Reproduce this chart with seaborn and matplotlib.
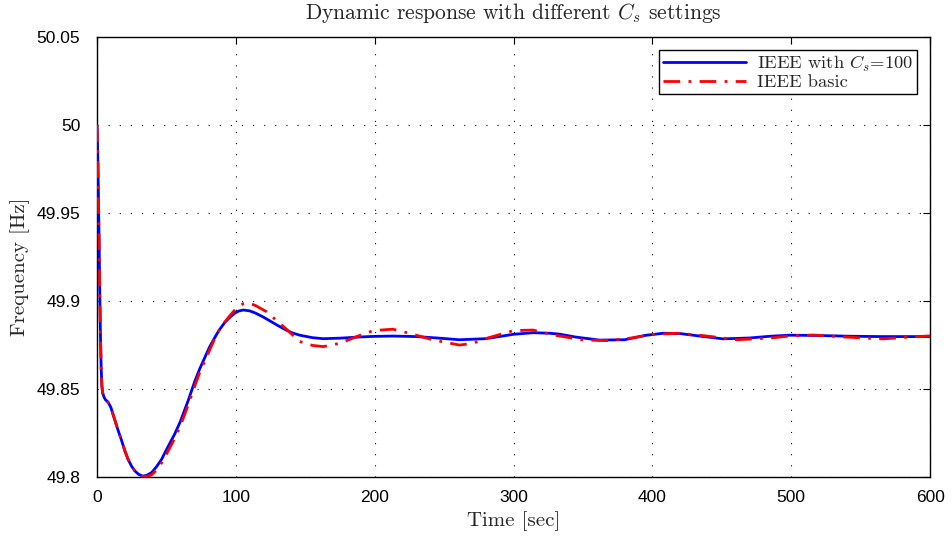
import numpy as np
import pandas as pd
import matplotlib
matplotlib.use("Agg")
import matplotlib.pyplot as plt
import seaborn as sns
from matplotlib.ticker import FixedLocator, FuncFormatter

# ---- data ----
t_blue = [0, 0.5, 1, 1.5, 2, 2.5, 3, 3.5, 4, 5, 6, 8, 10, 12.8, 15, 17.6, 20, 22.4, 25, 27.2,
          30, 33, 36, 39.3, 43, 46.5, 50, 56, 60, 65.7, 70.5, 74, 77.7, 81, 85, 88, 92, 96,
          99.4, 102, 105.4, 110, 114, 120, 125, 130, 136, 141, 146, 155, 163, 175, 190, 199,
          213, 230, 245, 261, 280, 300, 314, 326, 333, 345, 362, 380, 395, 408, 420, 435, 451,
          470, 485, 499, 520, 542, 565, 591, 600]
f_blue = [50.000, 49.985, 49.962, 49.935, 49.905, 49.880, 49.862, 49.852, 49.848, 49.8455,
          49.844, 49.8425, 49.8395, 49.8325, 49.827, 49.821, 49.815, 49.810, 49.806, 49.8035,
          49.8015, 49.8005, 49.801, 49.8025, 49.806, 49.810, 49.8155, 49.8245, 49.8315, 49.8435,
          49.8545, 49.8615, 49.868, 49.8738, 49.8795, 49.8835, 49.8878, 49.8910, 49.8932, 49.8943,
          49.8949, 49.8944, 49.8932, 49.8908, 49.8885, 49.8862, 49.8836, 49.8818, 49.8806,
          49.8792, 49.8786, 49.8789, 49.8796, 49.8799, 49.8801, 49.8798, 49.879, 49.878, 49.8786,
          49.8811, 49.882, 49.8817, 49.8812, 49.8795, 49.8778, 49.878, 49.8805, 49.8817, 49.8815,
          49.880, 49.8785, 49.879, 49.880, 49.8806, 49.8804, 49.880, 49.8798, 49.8798, 49.8798]

t_red = [0, 0.5, 1, 1.5, 2, 2.5, 3, 3.5, 4, 5, 6, 8, 10, 12.8, 15, 17.6, 20, 22.4, 25, 27.2,
         30, 33, 36, 39.3, 43, 46.5, 50, 56, 60, 65.7, 70.5, 74, 77.7, 81, 85, 88, 92, 96,
         99.4, 102, 105.4, 109, 114, 122, 130, 137, 146, 155, 163, 175, 187, 199, 213, 225,
         242, 261, 270, 281, 300, 314, 329, 350, 367, 385, 400, 418, 435, 461, 485, 500, 516,
         540, 566, 585, 600]
f_red = [50.000, 49.985, 49.962, 49.935, 49.905, 49.880, 49.862, 49.852, 49.848, 49.8455,
         49.844, 49.8425, 49.8395, 49.8325, 49.827, 49.821, 49.815, 49.810, 49.806, 49.8035,
         49.8015, 49.8003, 49.8003, 49.8012, 49.804, 49.808, 49.813, 49.822, 49.829, 49.841,
         49.852, 49.8595, 49.866, 49.872, 49.879, 49.8835, 49.888, 49.892, 49.895, 49.897,
         49.8985, 49.899, 49.8975, 49.894, 49.8885, 49.8836, 49.877, 49.8748, 49.8741, 49.876,
         49.8798, 49.8832, 49.884, 49.8817, 49.8779, 49.875, 49.8758, 49.8789, 49.8832, 49.8835,
         49.8807, 49.8779, 49.8775, 49.879, 49.881, 49.8817, 49.8805, 49.878, 49.879, 49.8802,
         49.8807, 49.8795, 49.8785, 49.8795, 49.8802]

labels = [r"IEEE with $C_s$=100", "IEEE basic"]
x_ticks = [0, 100, 200, 300, 400, 500, 600]
y_ticks = [49.8, 49.85, 49.9, 49.95, 50.0, 50.05]

sns.set_style("white")
plt.rcParams["mathtext.fontset"] = "cm"
plt.rcParams["font.family"] = ["Liberation Sans", "DejaVu Sans"]

fig = plt.figure(figsize=(9.51, 5.37), dpi=100)
ax = fig.add_axes([0.102, 0.1117, 0.876, 0.8193])

df_b = pd.DataFrame({"t": t_blue, "f": f_blue})
df_r = pd.DataFrame({"t": t_red, "f": f_red})
sns.lineplot(data=df_b, x="t", y="f", ax=ax, color="#0000ff", lw=2.0, sort=False,
             label=labels[0], zorder=3)
sns.lineplot(data=df_r, x="t", y="f", ax=ax, color="#ff0000", lw=2.0, sort=False,
             label=labels[1], zorder=4, linestyle=(0, (6, 3, 1, 3)))

ax.set_xlim(0, 600)
ax.set_ylim(49.8, 50.05)
ax.xaxis.set_major_locator(FixedLocator(x_ticks))
ax.yaxis.set_major_locator(FixedLocator(y_ticks))
ax.yaxis.set_major_formatter(FuncFormatter(lambda v, p: f"{v:g}"))
ax.xaxis.set_major_formatter(FuncFormatter(lambda v, p: f"{v:g}"))
ax.tick_params(direction="in", length=5, width=0.8, top=True, right=True,
               labelsize=12.5, colors="black")
ax.tick_params(axis="y", pad=12)
ax.tick_params(axis="x", pad=9)
for s in ax.spines.values():
    s.set_color("black")
    s.set_linewidth(1.0)
ax.grid(True, color="black", linestyle=(0, (1, 9)), linewidth=0.8)

cm = ["cmr10"]
ax.set_xlabel("Time [sec]", fontsize=15, family=cm, labelpad=5)
ax.set_ylabel("Frequency [Hz]", fontsize=15, family=cm)
ax.yaxis.set_label_coords(-0.08, 0.477)
ax.set_title(r"Dynamic response with different $C_s$ settings", fontsize=15.5,
             family=cm, pad=13)

leg = ax.legend(loc="upper right", fancybox=False, framealpha=1, edgecolor="black",
                prop={"family": cm, "size": 13.3}, handlelength=4.5, borderpad=0.2,
                labelspacing=0.02, handletextpad=0.6, borderaxespad=0.7)
leg.get_frame().set_linewidth(1.0)

fig.savefig("out.png", dpi=100)
